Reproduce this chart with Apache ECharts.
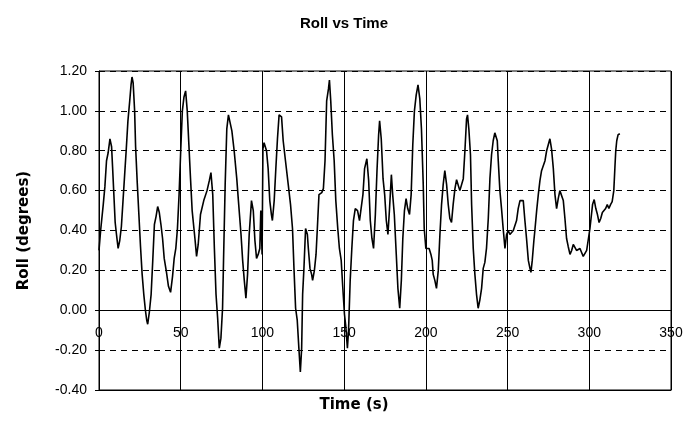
<!DOCTYPE html>
<html>
<head>
<meta charset="utf-8">
<script src="https://cdn.jsdelivr.net/npm/echarts@6/dist/echarts.min.js"></script>
<style>
  html, body { margin: 0; padding: 0; background: #ffffff; }
  #chart { width: 688px; height: 437px; }
</style>
</head>
<body>
<div id="chart"></div>
<script>
// Roll angle record (seconds, degrees)
var timeS = [
  0, 1, 2.6, 3.6, 4.6, 5.6, 6.7, 7.7, 8.3, 9.1, 9.9, 10.7, 11.7, 12.7, 13.7, 14.7, 15.7, 16.7, 17.7, 18.8,
  19.6, 20.2, 20.9, 21.8, 22.4, 23.4, 24.4, 25.4, 26.4, 27.4, 28.4, 29.2, 29.8, 30.8, 31.9, 32.9, 33.9, 34.9, 35.9, 36.9,
  37.9, 38.9, 39.9, 41.3, 42.5, 43.8, 45, 46, 47, 48, 49, 50, 51, 52, 53, 54, 55, 56, 57, 58.7,
  59.7, 60.7, 62.1, 64.1, 66.1, 67.5, 68.5, 69.6, 70.6, 71.6, 72.6, 73.6, 74.6, 75.6, 76.2, 77.2, 78.2, 79.2, 80.2, 81.3,
  82.7, 84.3, 85.3, 86.9, 87.9, 88.9, 89.9, 90.9, 91.9, 93.3, 94.4, 95.4, 96.4, 97.4, 98.4, 99, 99.8, 100.3, 101, 102.5,
  103.5, 104.5, 105.5, 106.1, 107.2, 108.2, 109.2, 110.2, 111.7, 112.7, 114.1, 115.8, 117.2, 118.4, 119.3, 120.3, 121.3, 122.3, 123.2, 124,
  124.6, 125.4, 126.4, 127.5, 128.1, 129.1, 130.1, 130.7, 131.8, 132.8, 133.6, 134.6, 136.3, 137.3, 138.3, 139.3, 140.4, 141, 141.8, 142.8,
  143.9, 144.9, 146.1, 147.1, 148.2, 149.2, 150.2, 151, 152, 152.7, 153.7, 154.7, 155.7, 156.8, 158.2, 159.4, 160.5, 161.5, 162.5, 163.9,
  165, 166, 167, 168, 169.1, 170.1, 171.1, 171.7, 172.7, 173.8, 174.8, 175.8, 176.8, 177.7, 178.9, 179.7, 180.7, 181.9, 182.9, 184,
  185, 185.9, 186.9, 187.9, 188.9, 190, 191, 192, 193, 194.1, 195.2, 196.3, 197.3, 198.4, 199, 200, 200.8, 202, 203.1, 203.9,
  204.5, 205.5, 206.5, 207.6, 208.6, 209.6, 210.6, 211.6, 212.7, 213.7, 214.7, 215.7, 216.7, 217.8, 218.8, 219.8, 220.8, 221.8, 222.9, 223.9,
  224.9, 225.5, 226.3, 227.3, 228, 229, 230, 231, 232, 233, 234.1, 235.1, 236.1, 237.1, 238.2, 239.2, 240.2, 241.2, 242.2, 242.9,
  243.7, 244.3, 245.3, 246.3, 247.3, 248.4, 249.4, 250.4, 251.4, 252.4, 253.5, 254.5, 255.5, 256.5, 257.6, 258.6, 259.6, 260.6, 261.6, 262.7,
  263.7, 264.3, 265.1, 266.1, 266.7, 267.8, 268.8, 269.8, 270.8, 271.8, 272.9, 273.9, 274.9, 275.9, 276.9, 278, 279, 280, 281, 282,
  283.1, 284.1, 285.1, 286.1, 287.1, 288.2, 289.2, 290.2, 291.2, 292.2, 293.3, 294.3, 295.3, 296.3, 297.3, 298.4, 299.4, 300.4, 302, 303,
  304, 305, 306, 307, 308, 309, 310, 311, 312, 313, 314, 315, 315.7, 316.2, 316.8, 317.6, 318.7
];
var rollDeg = [
  0.30, 0.40, 0.53, 0.62, 0.75, 0.79, 0.86, 0.82, 0.72, 0.58, 0.44, 0.38, 0.31, 0.35, 0.42, 0.55, 0.68, 0.81, 0.95, 1.05,
  1.13, 1.17, 1.14, 1.00, 0.82, 0.64, 0.48, 0.32, 0.18, 0.08, 0.00, -0.05, -0.07, -0.01, 0.08, 0.25, 0.43, 0.47, 0.52, 0.49,
  0.43, 0.36, 0.26, 0.19, 0.12, 0.09, 0.17, 0.26, 0.31, 0.41, 0.58, 0.80, 1.00, 1.07, 1.10, 1.00, 0.83, 0.66, 0.50, 0.36,
  0.27, 0.33, 0.48, 0.55, 0.60, 0.65, 0.69, 0.58, 0.31, 0.08, -0.04, -0.19, -0.14, 0.01, 0.25, 0.63, 0.91, 0.98, 0.98, 0.90,
  0.80, 0.66, 0.55, 0.38, 0.25, 0.15, 0.06, 0.18, 0.38, 0.55, 0.50, 0.35, 0.26, 0.28, 0.31, 0.50, 0.28, 0.81, 0.84, 0.80,
  0.71, 0.55, 0.48, 0.45, 0.55, 0.71, 0.86, 0.98, 0.97, 0.85, 0.75, 0.63, 0.53, 0.41, 0.21, 0.01, -0.05, -0.19, -0.31, -0.19,
  0.08, 0.21, 0.41, 0.38, 0.31, 0.21, 0.18, 0.15, 0.20, 0.28, 0.41, 0.58, 0.59, 0.61, 0.75, 1.05, 1.11, 1.155, 1.05, 0.88,
  0.75, 0.55, 0.41, 0.31, 0.25, 0.11, -0.02, -0.08, -0.19, -0.10, 0.15, 0.31, 0.45, 0.51, 0.50, 0.45, 0.46, 0.58, 0.71, 0.76,
  0.65, 0.45, 0.36, 0.31, 0.48, 0.70, 0.88, 0.95, 0.86, 0.66, 0.58, 0.45, 0.38, 0.50, 0.68, 0.58, 0.48, 0.28, 0.11, 0.01,
  0.15, 0.36, 0.50, 0.56, 0.51, 0.48, 0.58, 0.83, 1.00, 1.08, 1.13, 1.06, 0.91, 0.63, 0.41, 0.31, 0.30, 0.31, 0.28, 0.25,
  0.18, 0.15, 0.11, 0.20, 0.38, 0.53, 0.63, 0.70, 0.63, 0.53, 0.46, 0.44, 0.53, 0.61, 0.655, 0.65, 0.60, 0.59, 0.66, 0.80,
  0.96, 0.98, 0.91, 0.78, 0.53, 0.31, 0.18, 0.08, 0.01, 0.05, 0.11, 0.21, 0.24, 0.31, 0.46, 0.66, 0.78, 0.85, 0.89, 0.90,
  0.85, 0.75, 0.60, 0.51, 0.41, 0.31, 0.38, 0.40, 0.38, 0.39, 0.40, 0.41, 0.45, 0.51, 0.55, 0.56, 0.55, 0.45, 0.36, 0.25,
  0.21, 0.19, 0.25, 0.35, 0.40, 0.50, 0.58, 0.65, 0.70, 0.71, 0.75, 0.80, 0.83, 0.86, 0.81, 0.71, 0.58, 0.51, 0.56, 0.60,
  0.61, 0.55, 0.46, 0.36, 0.32, 0.28, 0.30, 0.33, 0.32, 0.30, 0.29, 0.31, 0.29, 0.27, 0.28, 0.30, 0.31, 0.41, 0.53, 0.555,
  0.51, 0.48, 0.44, 0.46, 0.49, 0.50, 0.51, 0.53, 0.51, 0.53, 0.545, 0.60, 0.72, 0.80, 0.85, 0.88, 0.885
];

// Axis ranges and tick steps
var timeAxis = { min: 0, max: 350, step: 50 };
var rollAxis = { min: -0.4, max: 1.2, step: 0.2 };

var points = timeS.map(function (t, i) { return [t, rollDeg[i]]; });

var gridBox = { left: 99, right: 17, top: 71, bottom: 47 };
var plotHeight = 437 - gridBox.top - gridBox.bottom;
// distance in px from the bottom edge (-0.40) up to the zero line
var zeroOffset = plotHeight * (0 - rollAxis.min) / (rollAxis.max - rollAxis.min);

var chart = echarts.init(document.getElementById('chart'), null, { renderer: 'canvas' });
var baseFont = 'Liberation Sans, Arial, sans-serif';
var nameFont = 'DejaVu Sans, Liberation Sans, sans-serif';

chart.setOption({
  animation: false,
  backgroundColor: '#ffffff',
  title: {
    text: 'Roll vs Time',
    left: 'center',
    top: 11,
    textStyle: { fontFamily: baseFont, fontSize: 15, fontWeight: 'bold', color: '#000' }
  },
  grid: {
    left: gridBox.left, right: gridBox.right, top: gridBox.top, bottom: gridBox.bottom,
    containLabel: false,
    outerBoundsMode: 'none',
    show: true, borderColor: '#000', borderWidth: 1, backgroundColor: 'transparent'
  },
  xAxis: {
    type: 'value',
    min: timeAxis.min, max: timeAxis.max, interval: timeAxis.step,
    name: 'Time (s)',
    nameLocation: 'middle',
    nameGap: 8,
    nameTextStyle: {
      fontFamily: nameFont, fontSize: 15, fontWeight: 'bold', color: '#000',
      padding: [0, 62, 0, 0]
    },
    axisLine: { onZero: false, lineStyle: { color: '#000', width: 1 } },
    axisTick: { show: false },
    // tick labels sit just under the zero line
    axisLabel: { fontFamily: baseFont, fontSize: 14, color: '#000', margin: 16 - zeroOffset },
    splitLine: { show: true, lineStyle: { color: '#000', width: 1, type: 'solid' } }
  },
  yAxis: {
    type: 'value',
    min: rollAxis.min, max: rollAxis.max, interval: rollAxis.step,
    name: 'Roll (degrees)',
    nameLocation: 'middle',
    nameGap: 67,
    nameRotate: 90,
    nameTextStyle: { fontFamily: nameFont, fontSize: 15, fontWeight: 'bold', color: '#000' },
    axisLine: { show: true, lineStyle: { color: '#000', width: 1 } },
    axisTick: { show: true, length: 4, lineStyle: { color: '#000' } },
    axisLabel: {
      fontFamily: baseFont, fontSize: 14, color: '#000', margin: 12,
      formatter: function (v) { return v.toFixed(2); }
    },
    splitLine: { show: true, lineStyle: { color: '#000', width: 1, type: [6, 5] } }
  },
  series: [{
    type: 'line',
    data: points,
    showSymbol: false,
    smooth: false,
    lineStyle: { color: '#000', width: 1.6 },
    markLine: {
      silent: true,
      symbol: 'none',
      label: { show: false },
      lineStyle: { color: '#000', width: 1, type: 'solid' },
      data: [{ yAxis: 0 }]
    }
  }]
});
</script>
</body>
</html>
